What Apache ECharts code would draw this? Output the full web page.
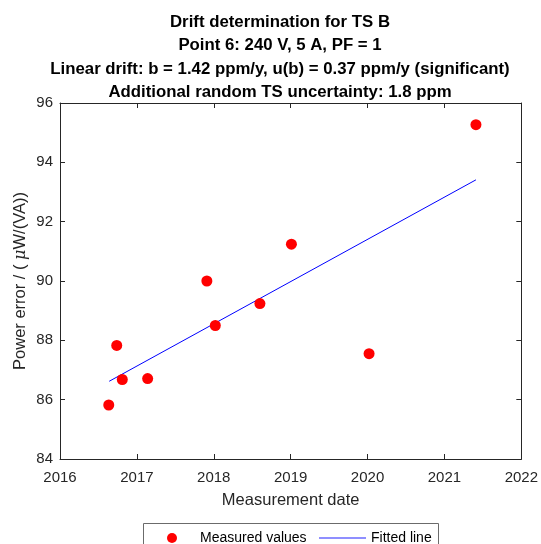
<!DOCTYPE html>
<html>
<head>
<meta charset="utf-8">
<script src="https://cdn.jsdelivr.net/npm/echarts@6/dist/echarts.min.js"></script>
<style>
  html, body { margin: 0; padding: 0; background: #fff; }
  #chart { width: 541px; height: 544px; }
</style>
</head>
<body>
<div id="chart"></div>
<script>
// Measurement dates (decimal years) and power errors in µW/(VA)
const measDates = [2016.634, 2016.738, 2016.81, 2017.14, 2017.91, 2018.02, 2018.60, 2019.01, 2020.02, 2021.41];
const measValues = [85.82, 87.83, 86.68, 86.71, 90.00, 88.50, 89.24, 91.24, 87.55, 95.27];

// Fitted linear drift, b = 1.42 ppm/y, from first to last measurement date
const fitDates = [2016.64, 2021.41];
const fitValues = [86.62, 93.41];

const xTicks = { min: 2016, max: 2022, step: 1 };
const yTicks = { min: 84, max: 96, step: 2 };

const titleLines = [
  'Drift determination for TS B',
  'Point 6: 240 V, 5 A, PF = 1',
  'Linear drift: b = 1.42 ppm/y, u(b) = 0.37 ppm/y (significant)',
  'Additional random TS uncertainty: 1.8 ppm'
];

const FONT = "'Liberation Sans', Arial, Helvetica, sans-serif";
const INK = '#262626';

const axisLine = { show: true, lineStyle: { color: INK, width: 1 } };
const axisTick = { show: true, inside: true, length: 5, lineStyle: { color: INK, width: 1 } };

const legendText = { fontFamily: FONT, fontSize: 14, color: '#000000' };

const chart = echarts.init(document.getElementById('chart'), null, { renderer: 'canvas' });

chart.setOption({
  backgroundColor: '#ffffff',
  animation: false,
  textStyle: { fontFamily: FONT },
  title: {
    text: titleLines.join('\n'),
    left: 275,
    top: 5.5,
    textAlign: 'center',
    textStyle: {
      fontFamily: FONT,
      fontWeight: 'bold',
      fontSize: 16.8,
      lineHeight: 23.5,
      color: '#000000'
    }
  },
  grid: { left: 60, right: 19, top: 103, bottom: 85, containLabel: false },
  xAxis: [
    {
      type: 'value',
      position: 'bottom',
      min: xTicks.min, max: xTicks.max, interval: xTicks.step,
      name: 'Measurement date',
      nameLocation: 'middle',
      nameGap: 33,
      nameMoveOverlap: false,
      nameTextStyle: { fontFamily: FONT, fontSize: 16.5, color: INK },
      axisLine, axisTick,
      axisLabel: { fontFamily: FONT, fontSize: 15, color: INK, margin: 11, formatter: v => String(v) },
      splitLine: { show: false }
    },
    {
      type: 'value',
      position: 'top',
      min: xTicks.min, max: xTicks.max, interval: xTicks.step,
      axisLine, axisTick,
      axisLabel: { show: false },
      splitLine: { show: false }
    }
  ],
  yAxis: [
    {
      type: 'value',
      position: 'left',
      min: yTicks.min, max: yTicks.max, interval: yTicks.step,
      name: 'Power error / ( {mu|μ}W/(VA))',
      nameLocation: 'middle',
      nameGap: 31,
      nameMoveOverlap: false,
      nameRotate: 90,
      nameTextStyle: {
        fontFamily: FONT, fontSize: 16.5, color: INK,
        rich: { mu: { fontFamily: "'DejaVu Serif', 'Liberation Serif', serif", fontStyle: 'italic', fontSize: 16, color: INK } }
      },
      axisLine, axisTick,
      axisLabel: { fontFamily: FONT, fontSize: 15, color: INK, margin: 7 },
      splitLine: { show: false }
    },
    {
      type: 'value',
      position: 'right',
      min: yTicks.min, max: yTicks.max, interval: yTicks.step,
      axisLine, axisTick,
      axisLabel: { show: false },
      splitLine: { show: false }
    }
  ],
  // Frame around the two legend entries
  graphic: [
    {
      type: 'rect',
      silent: true,
      shape: { x: 143.5, y: 523.5, width: 295, height: 40 },
      style: { fill: '#ffffff', stroke: '#6b6b6b', lineWidth: 1 },
      z: 0
    }
  ],
  legend: [
    {
      left: 167,
      top: 531,
      padding: 0,
      itemWidth: 10,
      itemHeight: 10,
      textStyle: Object.assign({ padding: [0, 0, 0, 18] }, legendText),
      data: [{ name: 'Measured values', icon: 'circle', itemStyle: { color: '#ff0000' } }],
      z: 5
    },
    {
      left: 319,
      top: 531,
      padding: 0,
      itemWidth: 47,
      itemHeight: 10,
      textStyle: legendText,
      data: [{
        name: 'Fitted line',
        icon: 'path://M0,0L47,0L47,1.4L0,1.4Z',
        itemStyle: { color: '#6a6aff' }
      }],
      z: 5
    }
  ],
  series: [
    {
      name: 'Measured values',
      type: 'scatter',
      xAxisIndex: 0, yAxisIndex: 0,
      symbol: 'circle',
      symbolSize: 11,
      itemStyle: { color: '#ff0000', opacity: 1 },
      data: measDates.map((d, i) => [d, measValues[i]]),
      z: 3
    },
    {
      name: 'Fitted line',
      type: 'line',
      xAxisIndex: 0, yAxisIndex: 0,
      symbol: 'none',
      showSymbol: false,
      lineStyle: { color: '#0000ff', width: 1 },
      itemStyle: { color: '#0000ff' },
      data: fitDates.map((d, i) => [d, fitValues[i]]),
      z: 2
    }
  ]
});
</script>
</body>
</html>
